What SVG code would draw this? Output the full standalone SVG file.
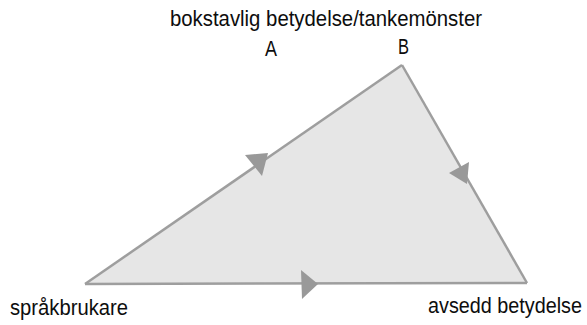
<svg xmlns="http://www.w3.org/2000/svg" width="587" height="325" viewBox="0 0 587 325">
<style>
.t{font-family:"Liberation Sans",Arial,sans-serif;font-size:22px;fill:#0d0d0d}
.edge{fill:none;stroke:#9e9e9e;stroke-width:2.5;stroke-linejoin:miter}
.ah{fill:#999}
</style>
<rect width="587" height="325" fill="#fff"/>
<g id="triangle">
<polygon points="85,284 402,65 527,283" fill="#e6e6e6" stroke="none"/>
</g>
<g id="connectors">
<line class="edge" x1="85" y1="284" x2="402" y2="65"/>
<line class="edge" x1="402" y1="65" x2="527" y2="283"/>
<line class="edge" x1="527" y1="283" x2="85" y2="284"/>
<polygon class="ah" points="245,155 268,153 262,176"/>
<polygon class="ah" points="449,173 469,162 467,184"/>
<polygon class="ah" points="301,270 318,284 302,299"/>
</g>
<g id="title"><text class="t" x="170" y="26" textLength="312" lengthAdjust="spacingAndGlyphs">bokstavlig betydelse/tankemönster</text></g>
<g id="A"><text class="t" x="265" y="56" textLength="12" lengthAdjust="spacingAndGlyphs">A</text></g>
<g id="B"><text class="t" x="398" y="54" textLength="11" lengthAdjust="spacingAndGlyphs">B</text></g>
<g id="sprakbrukare"><text class="t" x="10" y="315" textLength="118" lengthAdjust="spacingAndGlyphs">språkbrukare</text></g>
<g id="avsedd"><text class="t" transform="translate(428,313) scale(0.9,1)" x="0" y="0">avsedd betydelse</text></g>
</svg>
